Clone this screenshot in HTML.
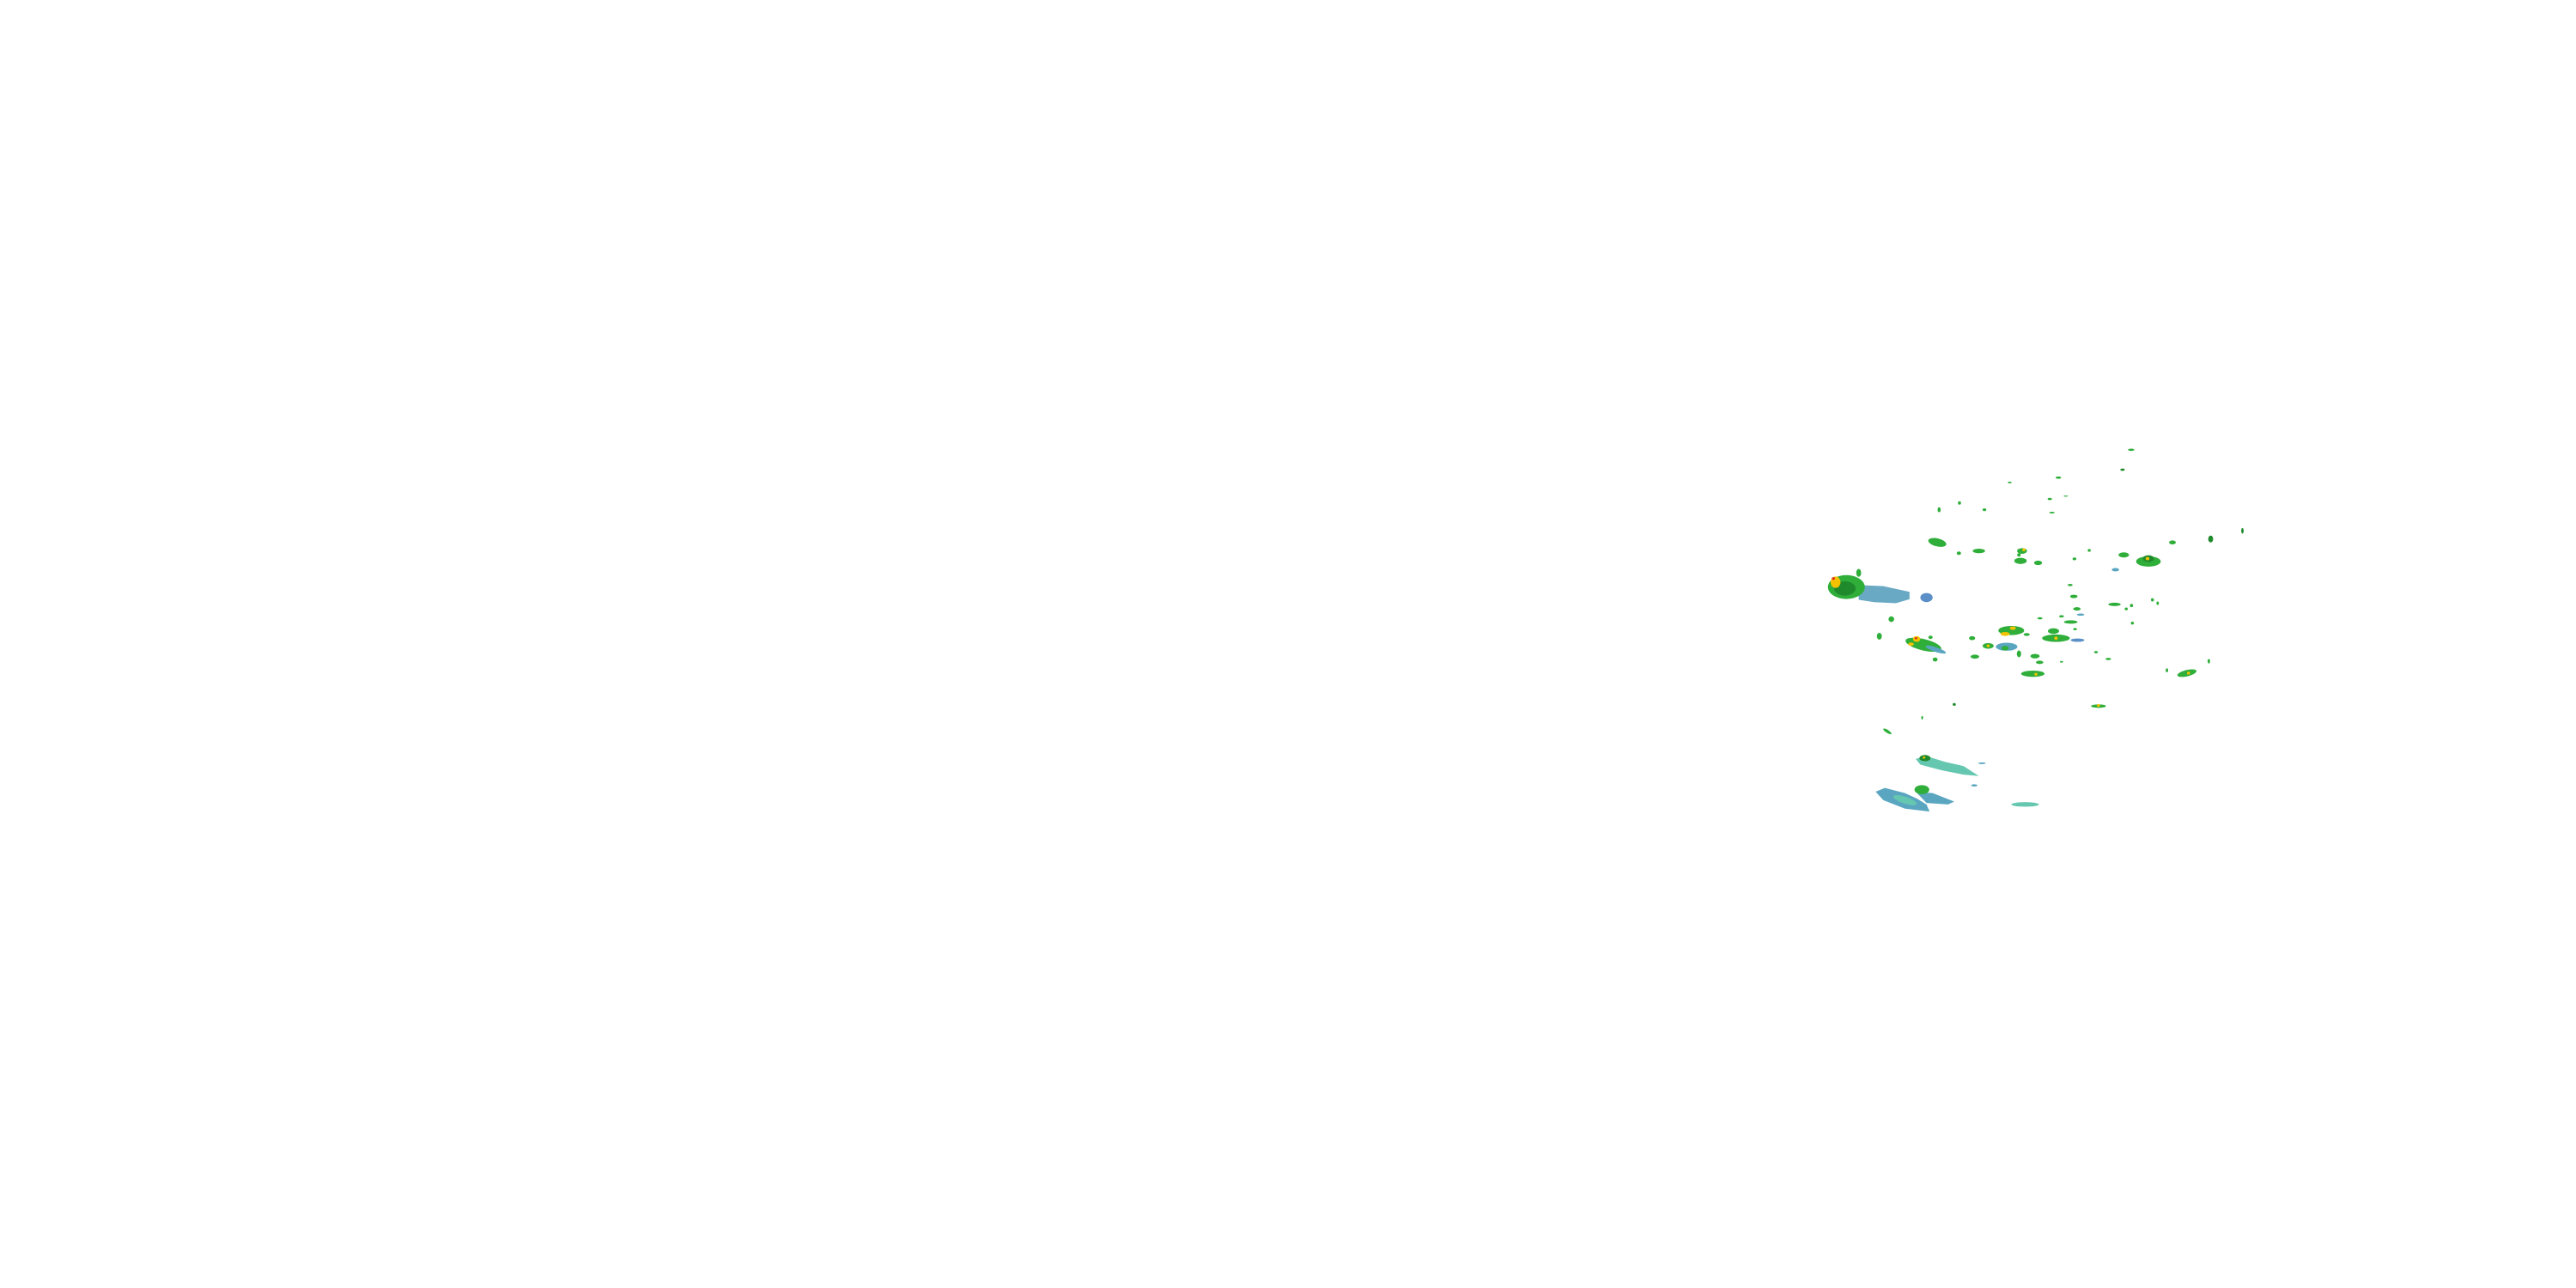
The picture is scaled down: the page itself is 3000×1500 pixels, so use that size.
<!DOCTYPE html>
<html><head><meta charset="utf-8"><style>
html,body{margin:0;padding:0;background:#fff;width:3000px;height:1500px;overflow:hidden}
svg{position:absolute;left:2100px;top:500px}
</style></head><body>
<svg width="560" height="460" viewBox="0 0 1560 1390" preserveAspectRatio="none">
<g>
<!-- big left storm -->
<path d="M180,548 L260,552 L345,572 L345,598 L300,612 L230,608 L180,600 Z" fill="#6aa9c4"/>
<ellipse cx="140" cy="555" rx="60" ry="42" fill="#2fae3a"/>
<ellipse cx="135" cy="560" rx="35" ry="25" fill="#1f8a2c"/>
<ellipse cx="105" cy="538" rx="16" ry="20" fill="#f2c200"/>
<circle cx="98" cy="525" r="5" fill="#e03020"/>
<ellipse cx="180" cy="505" rx="8" ry="14" fill="#2fae3a"/>
<ellipse cx="400" cy="592" rx="20" ry="16" fill="#5b8fc7"/>
<!-- bottom teal -->
<path d="M235,1275 L265,1262 L330,1280 L370,1300 L400,1320 L410,1345 L330,1335 L260,1305 Z" fill="#5aa6c0"/>
<path d="M365,1275 L420,1280 L490,1310 L470,1320 L400,1315 Z" fill="#5aa6c0"/>
<ellipse cx="330" cy="1305" rx="40" ry="12" fill="#66c7b0" transform="rotate(20 330 1305)"/>
<ellipse cx="385" cy="1268" rx="24" ry="16" fill="#2fae3a"/>
<path d="M365,1160 L400,1150 L460,1170 L520,1185 L570,1220 L520,1215 L450,1200 L380,1180 Z" fill="#66c7b0"/>
<ellipse cx="395" cy="1157" rx="18" ry="11" fill="#1f8a2c"/>
<circle cx="392" cy="1155" r="4" fill="#f2c200"/>
<ellipse cx="720" cy="1320" rx="45" ry="8" fill="#66c7b0"/>
<!-- middle -->
<ellipse cx="390" cy="758" rx="60" ry="20" fill="#2fae3a" transform="rotate(15 390 758)"/>
<ellipse cx="430" cy="775" rx="35" ry="8" fill="#5aa6c0" transform="rotate(20 430 775)"/>
<ellipse cx="368" cy="738" rx="12" ry="10" fill="#f2c200"/>
<circle cx="366" cy="735" r="4" fill="#e03020"/>
<ellipse cx="350" cy="756" rx="9" ry="6" fill="#f2c200"/>
<ellipse cx="675" cy="708" rx="42" ry="16" fill="#2fae3a"/>
<ellipse cx="655" cy="720" rx="15" ry="7" fill="#f2c200"/>
<ellipse cx="680" cy="700" rx="10" ry="6" fill="#f2c200"/>
<ellipse cx="660" cy="765" rx="35" ry="14" fill="#5aa6c0"/>
<ellipse cx="655" cy="770" rx="12" ry="8" fill="#2fae3a"/>
<ellipse cx="600" cy="762" rx="18" ry="10" fill="#2fae3a"/>
<circle cx="600" cy="762" r="5" fill="#f2c200"/>
<ellipse cx="745" cy="860" rx="38" ry="11" fill="#2fae3a"/>
<circle cx="755" cy="862" r="5" fill="#f2c200"/>
<ellipse cx="820" cy="735" rx="45" ry="13" fill="#2fae3a"/>
<ellipse cx="890" cy="742" rx="22" ry="6" fill="#5b8fc7"/>
<ellipse cx="812" cy="710" rx="18" ry="10" fill="#2fae3a"/>
<circle cx="820" cy="735" r="6" fill="#f2c200"/>
<ellipse cx="868" cy="678" rx="22" ry="6" fill="#2fae3a"/>
<ellipse cx="888" cy="632" rx="12" ry="6" fill="#2fae3a"/>
<ellipse cx="878" cy="588" rx="12" ry="6" fill="#2fae3a"/>
<ellipse cx="752" cy="798" rx="15" ry="8" fill="#2fae3a"/>
<ellipse cx="767" cy="820" rx="12" ry="6" fill="#2fae3a"/>
<ellipse cx="700" cy="790" rx="7" ry="12" fill="#2fae3a"/>
<ellipse cx="557" cy="800" rx="14" ry="7" fill="#2fae3a"/>
<ellipse cx="548" cy="735" rx="10" ry="7" fill="#2fae3a"/>
<ellipse cx="725" cy="722" rx="10" ry="5" fill="#2fae3a"/>
<ellipse cx="286" cy="668" rx="9" ry="10" fill="#2fae3a"/>
<ellipse cx="247" cy="728" rx="8" ry="12" fill="#2fae3a"/>
<ellipse cx="428" cy="810" rx="8" ry="7" fill="#2fae3a"/>
<ellipse cx="413" cy="732" rx="7" ry="6" fill="#2fae3a"/>
<!-- upper -->
<ellipse cx="435" cy="398" rx="30" ry="14" fill="#2fae3a" transform="rotate(15 435 398)"/>
<ellipse cx="570" cy="428" rx="20" ry="8" fill="#2fae3a"/>
<ellipse cx="505" cy="436" rx="7" ry="6" fill="#2fae3a"/>
<ellipse cx="710" cy="428" rx="16" ry="10" fill="#2fae3a"/>
<circle cx="716" cy="424" r="5" fill="#f2c200"/>
<ellipse cx="705" cy="463" rx="20" ry="11" fill="#2fae3a"/>
<circle cx="700" cy="442" r="6" fill="#2fae3a"/>
<ellipse cx="762" cy="470" rx="13" ry="8" fill="#2fae3a"/>
<ellipse cx="1120" cy="465" rx="40" ry="18" fill="#2fae3a"/>
<ellipse cx="1120" cy="455" rx="18" ry="12" fill="#1f8a2c"/>
<circle cx="1117" cy="455" r="6" fill="#f2c200"/>
<ellipse cx="1040" cy="442" rx="17" ry="9" fill="#2fae3a"/>
<ellipse cx="1013" cy="494" rx="12" ry="6" fill="#5aa6c0"/>
<ellipse cx="1198" cy="398" rx="11" ry="7" fill="#2fae3a"/>
<ellipse cx="1322" cy="386" rx="8" ry="12" fill="#1f8a2c"/>
<ellipse cx="1425" cy="357" rx="4" ry="10" fill="#1f8a2c"/>
<ellipse cx="1245" cy="858" rx="32" ry="11" fill="#2fae3a" transform="rotate(-15 1245 858)"/>
<circle cx="1250" cy="858" r="5" fill="#f2c200"/>
<ellipse cx="958" cy="974" rx="24" ry="6" fill="#2fae3a"/>
<circle cx="958" cy="972" r="5" fill="#f2c200"/>
<ellipse cx="1010" cy="616" rx="20" ry="6" fill="#2fae3a"/>
<ellipse cx="1064" cy="72" rx="10" ry="4" fill="#2fae3a"/>
<ellipse cx="1036" cy="142" rx="7" ry="4" fill="#1f8a2c"/>
<ellipse cx="828" cy="170" rx="9" ry="4" fill="#2fae3a"/>
<ellipse cx="670" cy="187" rx="6" ry="3" fill="#2fae3a"/>
<ellipse cx="852" cy="235" rx="7" ry="2" fill="#2fae3a"/>
<ellipse cx="800" cy="245" rx="7" ry="4" fill="#2fae3a"/>
<ellipse cx="807" cy="293" rx="9" ry="3" fill="#2fae3a"/>
<ellipse cx="588" cy="283" rx="6" ry="5" fill="#2fae3a"/>
<ellipse cx="507" cy="259" rx="5" ry="6" fill="#2fae3a"/>
<ellipse cx="441" cy="283" rx="5" ry="9" fill="#2fae3a"/>
<ellipse cx="880" cy="456" rx="6" ry="5" fill="#2fae3a"/>
<ellipse cx="928" cy="426" rx="5" ry="5" fill="#2fae3a"/>
<ellipse cx="866" cy="548" rx="8" ry="4" fill="#2fae3a"/>
<ellipse cx="1065" cy="620" rx="5" ry="6" fill="#2fae3a"/>
<ellipse cx="1048" cy="632" rx="5" ry="5" fill="#2fae3a"/>
<ellipse cx="1068" cy="682" rx="5" ry="5" fill="#2fae3a"/>
<ellipse cx="1133" cy="600" rx="5" ry="6" fill="#2fae3a"/>
<ellipse cx="1150" cy="612" rx="4" ry="6" fill="#2fae3a"/>
<ellipse cx="1180" cy="848" rx="4" ry="7" fill="#2fae3a"/>
<ellipse cx="1316" cy="816" rx="4" ry="8" fill="#2fae3a"/>
<ellipse cx="768" cy="665" rx="8" ry="4" fill="#2fae3a"/>
<ellipse cx="838" cy="658" rx="8" ry="4" fill="#2fae3a"/>
<ellipse cx="900" cy="652" rx="12" ry="4" fill="#5aa6c0"/>
<ellipse cx="950" cy="784" rx="6" ry="4" fill="#2fae3a"/>
<ellipse cx="990" cy="808" rx="9" ry="4" fill="#2fae3a"/>
<ellipse cx="882" cy="703" rx="6" ry="4" fill="#2fae3a"/>
<ellipse cx="838" cy="818" rx="5" ry="3" fill="#2fae3a"/>
<ellipse cx="490" cy="968" rx="5" ry="5" fill="#1f8a2c"/>
<ellipse cx="386" cy="1015" rx="3" ry="6" fill="#2fae3a"/>
<ellipse cx="273" cy="1063" rx="16" ry="5" fill="#2fae3a" transform="rotate(35 273 1063)"/>
<ellipse cx="580" cy="1175" rx="12" ry="3" fill="#5aa6c0"/>
<ellipse cx="555" cy="1253" rx="10" ry="4" fill="#5aa6c0"/>
</g>
</svg>
</body></html>
